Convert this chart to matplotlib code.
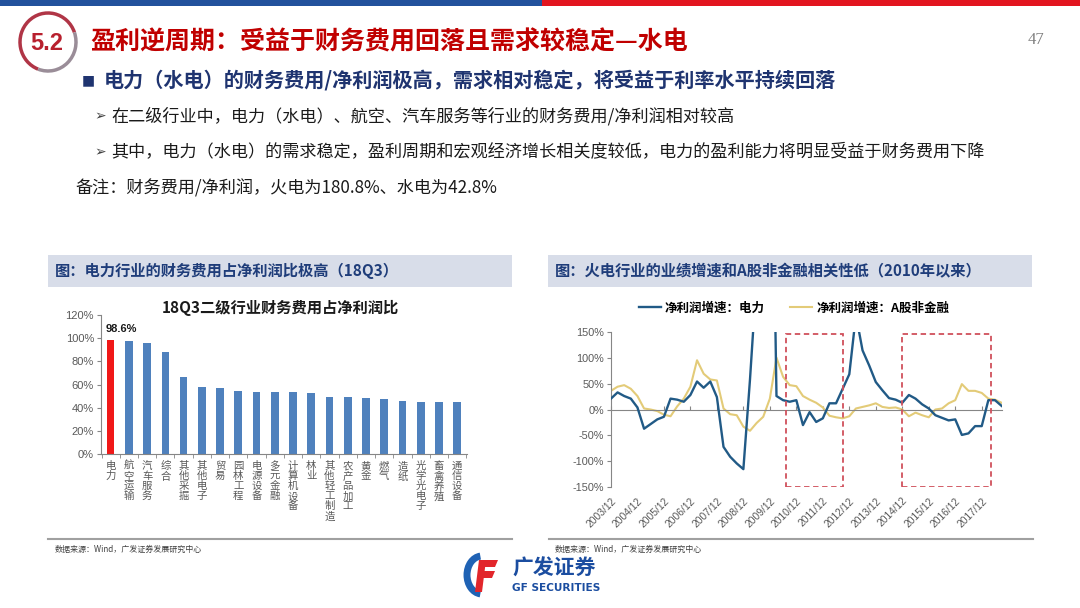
import matplotlib
matplotlib.use("Agg")
import matplotlib.pyplot as plt
import matplotlib.patches as mpatches
from matplotlib.ticker import FuncFormatter, FixedLocator
import numpy as np

plt.rcParams['font.family'] = ['Noto Sans CJK SC', 'DejaVu Sans']
NUM_FONT = ['Liberation Sans', 'Noto Sans CJK SC']

# ---- left chart data: 18Q3 finance cost / net profit by sub-industry ----
industries = ['电力', '航空运输', '汽车服务', '综合', '其他采掘', '其他电子', '贸易', '园林工程',
              '电源设备', '多元金融', '计算机设备', '林业', '其他轻工制造', '农产品加工', '黄金',
              '燃气', '造纸', '光学光电子', '畜禽养殖', '通信设备']
cost_ratio = [98.6, 98.0, 96.3, 87.9, 66.4, 57.8, 56.9, 54.9, 54.0, 53.7, 53.7, 53.2,
              49.7, 49.1, 48.3, 47.7, 45.7, 45.4, 45.4, 44.8]

# ---- right chart data: quarterly net profit growth (%) 2003/12 - 2018/09 ----
quarters = []
for yr in range(2003, 2019):
    for m in ['03', '06', '09', '12']:
        quarters.append(f'{yr}/{m}')
quarters = quarters[quarters.index('2003/12'):quarters.index('2018/09') + 1]

power_growth = [21, 33, 26, 21, 4, -37, -28, -19, -14, 21,
                19, 15, 28, 54, 42, 54, 24, -72, -91, -104,
                -115, 58, 255, 700, 850, 26, 18, 15, 18, -30,
                -5, -24, -17, 12, 12, 40, 68, 182, 114, 85,
                53, 37, 22, 19, 13, 28, 21, 10, 2, -11,
                -16, -21, -19, -49, -46, -32, -32, 18, 18, 7]
nonfin_growth = [36, 44, 47, 40, 26, 2, 0, -3, -10, -13,
                 6, 21, 44, 95, 69, 58, 56, 2, -9, -11,
                 -33, -41, -26, -14, 21, 100, 63, 47, 45, 26,
                 19, 13, 4, -12, -15, -17, -13, 2, 5, 8,
                 12, 5, 3, 4, 0, -13, -6, -11, -15, 0,
                 2, 12, 18, 49, 36, 36, 32, 21, 19, 13]
# highlighted periods (quarter index ranges)
highlight_boxes = [(26.5, 35.0), (43.9, 57.4)]

fig = plt.figure(figsize=(10.8, 6.08), dpi=100)

# ---------------- slide background (pixel coordinates) ----------------
bg = fig.add_axes([0, 0, 1, 1])
bg.set_xlim(0, 1080)
bg.set_ylim(608, 0)
bg.axis('off')

bg.add_patch(mpatches.Rectangle((0, 0), 542, 6, color='#22519C', lw=0))
bg.add_patch(mpatches.Rectangle((542, 0), 538, 6, color='#E2151F', lw=0))

bg.add_patch(mpatches.Arc((48, 42), 56, 58, theta1=110, theta2=340, color='#B03546', lw=2.5))
bg.add_patch(mpatches.Arc((48, 42), 56, 58, theta1=-20, theta2=110, color='#9A8D98', lw=2.5))
bg.text(47, 43, '5.2', color='#B8202E', fontsize=17, fontweight='bold',
        family=NUM_FONT, ha='center', va='center')
bg.text(90, 42, '盈利逆周期：受益于财务费用回落且需求较稳定—水电', color='#C00000',
        fontsize=18, fontweight='bold', ha='left', va='center')
bg.text(1036, 40, '47', color='#7F7F7F', fontsize=12, family=['Liberation Serif'],
        ha='center', va='center')

bg.text(88, 80, '■', color='#1F3470', fontsize=10, family=['DejaVu Sans'], ha='center', va='center')
bg.text(104, 80, '电力（水电）的财务费用/净利润极高，需求相对稳定，将受益于利率水平持续回落',
        color='#1F3470', fontsize=14.5, fontweight='bold', ha='left', va='center')
for yy, line in [(116, '在二级行业中，电力（水电）、航空、汽车服务等行业的财务费用/净利润相对较高'),
                 (152, '其中，电力（水电）的需求稳定，盈利周期和宏观经济增长相关度较低，电力的盈利能力将明显受益于财务费用下降')]:
    bg.text(100, yy, '➢', color='#404040', fontsize=10, family=['DejaVu Sans'], ha='center', va='center')
    bg.text(111, yy, line, color='#1A1A1A', fontsize=12.3, ha='left', va='center')
bg.text(75, 188, '备注：财务费用/净利润，火电为180.8%、水电为42.8%', color='#1A1A1A',
        fontsize=12.3, style='italic', ha='left', va='center')

# panel headers
bg.add_patch(mpatches.Rectangle((48, 255), 464, 32, color='#D8DDE9', lw=0))
bg.add_patch(mpatches.Rectangle((548, 255), 484, 32, color='#D8DDE9', lw=0))
bg.text(55, 271, '图：电力行业的财务费用占净利润比极高（18Q3）', color='#1F3D7A',
        fontsize=11, fontweight='bold', ha='left', va='center')
bg.text(555, 271, '图：火电行业的业绩增速和A股非金融相关性低（2010年以来）', color='#1F3D7A',
        fontsize=11, fontweight='bold', ha='left', va='center')

# bottom rules + sources
bg.plot([48, 512], [539, 539], color='#A0A0A0', lw=1.5)
bg.plot([549, 1033], [539, 539], color='#A0A0A0', lw=1.5)
for sx in (55, 555):
    bg.text(sx, 549, '数据来源：Wind，广发证券发展研究中心', color='#404040', fontsize=5.8,
            ha='left', va='center')

# logo
bg.add_patch(mpatches.Arc((482, 575), 30, 38, theta1=95, theta2=265, color='#1F62B4', lw=5))
bg.add_patch(mpatches.Polygon([(479, 560), (498, 560), (495, 567), (482, 567)], color='#E2262B', lw=0))
bg.add_patch(mpatches.Polygon([(481, 571), (495, 571), (492, 578), (482, 578)], color='#E2262B', lw=0))
bg.add_patch(mpatches.Polygon([(479, 560), (486, 560), (482, 592), (475, 592)], color='#E2262B', lw=0))
bg.text(512, 568, '广发证券', color='#1B4DA0', fontsize=15, fontweight='bold', ha='left', va='center')
bg.text(512, 588, 'GF SECURITIES', color='#1B4DA0', fontsize=7.6, fontweight='bold',
        family=['DejaVu Sans'], ha='left', va='center')

# ---------------- left: bar chart ----------------
ax1 = fig.add_axes([0.0935, 0.2528, 0.3386, 0.2291])
x1 = np.arange(len(industries))
colors = ['#F01818'] + ['#4F81BD'] * (len(industries) - 1)
ax1.bar(x1, cost_ratio, width=0.42, color=colors)
ax1.set_xlim(-0.53, len(industries) - 0.48)
ax1.set_ylim(0, 120)
ax1.yaxis.set_major_locator(FixedLocator(np.arange(0, 121, 20)))
ax1.yaxis.set_major_formatter(FuncFormatter(lambda v, _: f'{v:.0f}%'))
ax1.set_xticks(x1)
ax1.set_xticklabels(['\n'.join(n) for n in industries], fontsize=7.5, color='#595959',
                    linespacing=1.0)
ax1.set_xticks(np.arange(-0.5, len(industries), 1), minor=True)
ax1.tick_params(axis='x', which='major', length=0, pad=5)
ax1.tick_params(axis='x', which='minor', length=3, color='#868686')
ax1.tick_params(axis='y', length=3, color='#868686', labelsize=8, labelcolor='#595959', pad=2)
for lab in ax1.get_yticklabels():
    lab.set_family(NUM_FONT)
for s in ['top', 'right']:
    ax1.spines[s].set_visible(False)
for s in ['left', 'bottom']:
    ax1.spines[s].set_color('#868686')
    ax1.spines[s].set_linewidth(0.8)
ax1.annotate(f'{cost_ratio[0]}%', xy=(x1[0] - 0.25, cost_ratio[0]), xytext=(0, 4),
             textcoords='offset points', ha='left', va='bottom', fontsize=8,
             fontweight='bold', family=NUM_FONT, color='#1A1A1A')
ax1.text(0.49, 1.05, '18Q3二级行业财务费用占净利润比', transform=ax1.transAxes,
         ha='center', va='center', fontsize=11, fontweight='bold', color='#1A1A1A')

# ---------------- right: line chart ----------------
ax2 = fig.add_axes([0.5657, 0.1985, 0.362, 0.2559])
x2 = np.arange(len(quarters))
ax2.plot(x2, power_growth, color='#215A86', lw=1.7, label='净利润增速：电力', zorder=3)
ax2.plot(x2, nonfin_growth, color='#E3CB78', lw=1.5, label='净利润增速：A股非金融', zorder=2)
ax2.set_xlim(0, len(quarters) - 0.95)
ax2.set_ylim(-150, 150)
ax2.yaxis.set_major_locator(FixedLocator(np.arange(-150, 151, 50)))
ax2.yaxis.set_major_formatter(FuncFormatter(lambda v, _: f'{v:.0f}%'))
ax2.tick_params(axis='y', length=3, color='#868686', labelsize=7.8, labelcolor='#595959', pad=2)
for lab in ax2.get_yticklabels():
    lab.set_family(NUM_FONT)
for s in ['top', 'right']:
    ax2.spines[s].set_visible(False)
ax2.spines['left'].set_color('#868686')
ax2.spines['left'].set_linewidth(0.8)
ax2.spines['bottom'].set_position(('data', 0))
ax2.spines['bottom'].set_color('#868686')
ax2.spines['bottom'].set_linewidth(0.8)
year_idx = x2[::4]
ax2.set_xticks(year_idx)
ax2.set_xticklabels([])
ax2.tick_params(axis='x', direction='in', length=3, color='#868686')
sec = ax2.secondary_xaxis(0.0)
sec.set_xticks(year_idx)
sec.set_xticklabels([quarters[i] for i in year_idx], rotation=45, ha='right',
                    rotation_mode='anchor', fontsize=7.4, color='#595959', family=NUM_FONT)
sec.tick_params(length=0, pad=6)
sec.spines['bottom'].set_visible(False)

for xa, xb in highlight_boxes:
    ax2.add_patch(mpatches.Rectangle((xa, -149), xb - xa, 294, fill=False,
                                     edgecolor='#D0505C', ls=(0, (3, 2)), lw=1.3, zorder=4))

ax2.legend(loc='center', bbox_to_anchor=(0.468, 1.152), ncol=2, frameon=False,
           handlelength=1.8, handletextpad=0.3, columnspacing=2.0,
           prop={'weight': 'bold', 'size': 9})

fig.savefig('out.png', dpi=100)
